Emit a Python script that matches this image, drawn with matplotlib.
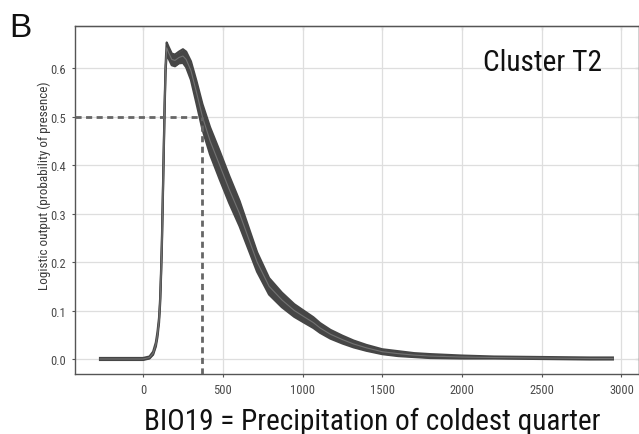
import matplotlib
matplotlib.use("Agg")
import matplotlib.pyplot as plt
from matplotlib import font_manager
import numpy as np

# response curve of BIO19 (mean and half-width of the replicate band)
bio19 = [-270, -150, 0, 40, 63, 80, 90, 100, 107, 113, 118, 123, 129, 135, 141,
         148, 160, 180, 200, 225, 250, 270, 300, 335, 372, 420, 480, 540, 605,
         660, 715, 790, 870, 948, 1010, 1068, 1110, 1175, 1250, 1320, 1400,
         1500, 1600, 1700, 1800, 2000, 2200, 2500, 2800, 2946]
mean_out = [0.0, 0.0, 0.0, 0.003, 0.012, 0.03, 0.05, 0.08, 0.12, 0.18, 0.24,
            0.32, 0.42, 0.52, 0.60, 0.642, 0.632, 0.618, 0.616, 0.622, 0.625,
            0.618, 0.595, 0.55, 0.50, 0.45, 0.40, 0.35, 0.30, 0.25, 0.20, 0.15,
            0.122, 0.10, 0.087, 0.075, 0.064, 0.051, 0.040, 0.031, 0.023, 0.015,
            0.011, 0.008, 0.006, 0.004, 0.003, 0.002, 0.001, 0.001]
half_band = [0.002, 0.002, 0.002, 0.002, 0.003, 0.004, 0.005, 0.005, 0.005,
             0.005, 0.005, 0.005, 0.005, 0.005, 0.006, 0.011, 0.012, 0.012,
             0.012, 0.012, 0.014, 0.016, 0.019, 0.023, 0.026, 0.028, 0.029,
             0.028, 0.026, 0.023, 0.020, 0.017, 0.015, 0.013, 0.012, 0.011,
             0.010, 0.009, 0.008, 0.007, 0.006, 0.005, 0.005, 0.004, 0.004,
             0.003, 0.002, 0.002, 0.002, 0.002]

threshold_x = 372
threshold_y = 0.5

x_ticks = [0, 500, 1000, 1500, 2000, 2500, 3000]
y_ticks = [0.0, 0.1, 0.2, 0.3, 0.4, 0.5, 0.6]


def pick_narrow_font():
    """Return a FontProperties for a narrow sans face if one is installed."""
    prefer = ["liberation sans narrow", "roboto condensed", "open sans condensed",
              "noto sans", "dejavu sans"]
    found = []
    for f in font_manager.fontManager.ttflist:
        name = f.name.lower()
        narrowish = ("narrow" in name or "condensed" in name
                     or str(f.stretch) in ("condensed", "semi-condensed"))
        if not narrowish or f.style != "normal":
            continue
        if f.weight not in (400, "normal", "regular"):
            continue
        rank = next((i for i, p in enumerate(prefer) if name.startswith(p)), 99)
        found.append((rank, f.fname))
    if found:
        found.sort()
        return font_manager.FontProperties(fname=found[0][1])
    return font_manager.FontProperties(family=["Liberation Sans", "DejaVu Sans"])


narrow = pick_narrow_font()

W, H = 639, 435
fig = plt.figure(figsize=(W / 100, H / 100), dpi=100)
ax = fig.add_axes([75 / W, 1 - 375 / H, 564 / W, 348 / H])
renderer = fig.canvas.get_renderer()


def fit_length(txt, length_px, vertical=False):
    # rescale a text until it spans the given number of pixels
    for _ in range(3):
        bb = txt.get_window_extent(renderer=renderer)
        cur = bb.height if vertical else bb.width
        txt.set_fontsize(txt.get_fontsize() * length_px / cur)


x = np.array(bio19)
m = np.array(mean_out)
s = np.array(half_band)

band_col = "#464646"
ax.fill_between(x, m - s, m + s, color=band_col, lw=0, zorder=3)
ax.plot(x, m + s, color=band_col, lw=1.6, zorder=3)
ax.plot(x, m - s, color=band_col, lw=1.6, zorder=3)
ax.plot(x, m, color="#727272", lw=0.8, zorder=4)

xlim = (-427, 3110)
ylim = (-0.031, 0.687)

# threshold guides
ax.plot([xlim[0], threshold_x], [threshold_y, threshold_y], color="#666666",
        lw=2.0, dashes=(2.2, 1.6), zorder=5)
ax.plot([threshold_x, threshold_x], [ylim[0], threshold_y], color="#666666",
        lw=2.0, dashes=(2.2, 1.6), zorder=5)

ax.set_xlim(*xlim)
ax.set_ylim(*ylim)
ax.set_xticks(x_ticks)
ax.set_yticks(y_ticks)
ax.set_xticklabels([str(v) for v in x_ticks])
ax.set_yticklabels([f"{v:.1f}" for v in y_ticks])
ax.grid(True, color="#dedede", lw=0.9, zorder=0)
ax.set_axisbelow(True)

for sp in ax.spines.values():
    sp.set_color("#555555")
    sp.set_linewidth(1.0)
ax.tick_params(axis="both", direction="out", length=2.5, width=0.8,
               color="#555555", pad=4)
for lab in ax.get_xticklabels() + ax.get_yticklabels():
    lab.set_fontproperties(narrow)
    lab.set_fontsize(9)
    lab.set_color("#4a4a4a")

# inward ticks on the top and right edges
top = ax.secondary_xaxis("top")
top.set_xticks(x_ticks)
top.tick_params(direction="in", length=3, width=0.8, color="#555555",
                labeltop=False)
right = ax.secondary_yaxis("right")
right.set_yticks(y_ticks)
right.tick_params(direction="in", length=3, width=0.8, color="#555555",
                  labelright=False)

ylab = fig.text(44 / W, 1 - 186 / H, "Logistic output (probability of presence)",
                rotation=90, ha="center", va="center", color="#3a3a3a",
                fontproperties=narrow, fontsize=8.2)
fit_length(ylab, 208, vertical=True)

xlab = fig.text(372 / W, 1 - 430 / H, "BIO19 = Precipitation of coldest quarter",
                ha="center", va="baseline", color="#111111",
                fontproperties=narrow, fontsize=22)
fit_length(xlab, 457)

tag = fig.text(483 / W, 1 - 70.7 / H, "Cluster T2", ha="left", va="baseline",
               color="#111111", fontproperties=narrow, fontsize=23)
fit_length(tag, 119)

fig.text(9 / W, 1 - 37.3 / H, "B", ha="left", va="baseline", fontsize=24,
         color="#111111", family=["Liberation Sans", "DejaVu Sans"])

fig.savefig("out.png", dpi=100)
